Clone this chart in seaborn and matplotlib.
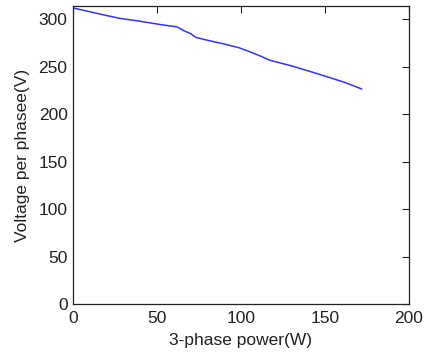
import numpy as np
import pandas as pd
import matplotlib
matplotlib.use("Agg")
import matplotlib.pyplot as plt
import seaborn as sns

# data
power = [0, 10, 20, 28, 40, 52, 62, 66, 70, 73, 80, 90, 99, 105, 112, 117, 130, 145, 161, 167, 172]
voltage = [312, 308, 304, 301, 298, 294.5, 292, 288, 285, 281, 278, 274, 270, 266, 261, 257, 251, 243, 234, 230, 226.5]
xticks = [0, 50, 100, 150, 200]
yticks = [0, 50, 100, 150, 200, 250, 300]

sns.set_theme(style="white")
plt.rcParams['font.family'] = ['Liberation Sans', 'DejaVu Sans']

df = pd.DataFrame({"power": power, "voltage": voltage})

fig = plt.figure(figsize=(4.25, 3.58), dpi=100)
ax = fig.add_axes([0.172, 0.151, 0.79, 0.832])
sns.lineplot(data=df, x="power", y="voltage", ax=ax, color="#3333ff", linewidth=1.1)

ax.set_xlim(0, 200)
ax.set_ylim(0, 314)
ax.set_xticks(xticks)
ax.set_yticks(yticks)
ax.tick_params(direction="in", top=True, right=True, length=5, width=0.8,
               labelsize=12.5, colors="#222222", pad=4)
ax.tick_params(axis="x", pad=5)
for s in ax.spines.values():
    s.set_color("#222222")
    s.set_linewidth(0.9)
ax.set_xlabel("3-phase power(W)", fontsize=12.5, labelpad=5, color="#222222")
ax.set_ylabel("Voltage per phasee(V)", fontsize=12.5, labelpad=6, color="#222222")

fig.savefig("out.png", dpi=100)
